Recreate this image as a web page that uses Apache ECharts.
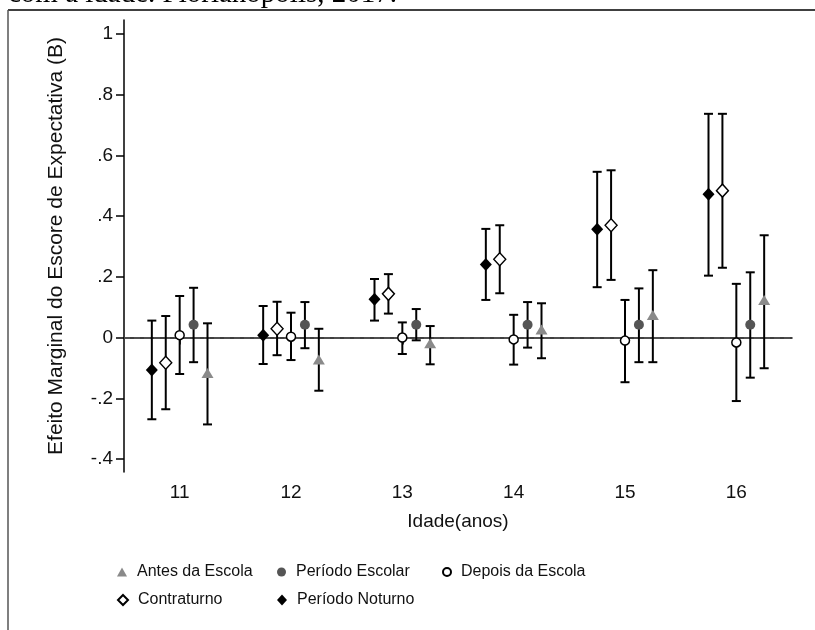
<!DOCTYPE html>
<html>
<head>
<meta charset="utf-8">
<script src="https://cdn.jsdelivr.net/npm/echarts@6/dist/echarts.min.js"></script>
<style>
html,body{margin:0;padding:0;background:#fff;}
#chart{width:815px;height:630px;}
</style>
</head>
<body>
<div id="chart"></div>
<script>
// ---- data ----
const ages = [11, 12, 13, 14, 15, 16];
const yTicks = [-0.4, -0.2, 0, 0.2, 0.4, 0.6, 0.8, 1];

const antesEst = [-0.117, -0.072, -0.019, 0.027, 0.074, 0.124];
const antesLo  = [-0.286, -0.175, -0.088, -0.068, -0.081, -0.101];
const antesHi  = [0.047, 0.029, 0.038, 0.113, 0.222, 0.337];

const escolarEst = [0.042, 0.042, 0.042, 0.042, 0.042, 0.042];
const escolarLo  = [-0.081, -0.035, -0.009, -0.033, -0.081, -0.132];
const escolarHi  = [0.164, 0.117, 0.094, 0.117, 0.162, 0.215];

const depoisEst = [0.008, 0.003, 0.000, -0.006, -0.010, -0.016];
const depoisLo  = [-0.120, -0.074, -0.054, -0.089, -0.147, -0.209];
const depoisHi  = [0.137, 0.082, 0.050, 0.075, 0.124, 0.177];

const contraEst = [-0.083, 0.029, 0.144, 0.258, 0.370, 0.484];
const contraLo  = [-0.236, -0.058, 0.079, 0.146, 0.190, 0.230];
const contraHi  = [0.071, 0.118, 0.209, 0.370, 0.551, 0.737];

const noturnoEst = [-0.107, 0.008, 0.126, 0.241, 0.357, 0.472];
const noturnoLo  = [-0.269, -0.087, 0.056, 0.124, 0.166, 0.204];
const noturnoHi  = [0.056, 0.104, 0.193, 0.358, 0.546, 0.737];

const names = ['Antes da Escola', 'Período Escolar', 'Depois da Escola', 'Contraturno', 'Período Noturno'];

// ---- build ----
const FONT = '"Liberation Sans", Arial, sans-serif';
const groups = [
  {name: names[0], est: antesEst, lo: antesLo, hi: antesHi, off: 0.25,
   symbol: 'triangle', size: [12, 10], style: {color: '#8a8a8a', opacity: 1}},
  {name: names[1], est: escolarEst, lo: escolarLo, hi: escolarHi, off: 0.125,
   symbol: 'circle', size: 10, style: {color: '#555555', opacity: 1}},
  {name: names[2], est: depoisEst, lo: depoisLo, hi: depoisHi, off: 0,
   symbol: 'circle', size: 9, style: {color: '#ffffff', borderColor: '#000', borderWidth: 1.5, opacity: 1}},
  {name: names[3], est: contraEst, lo: contraLo, hi: contraHi, off: -0.125,
   symbol: 'diamond', size: [12, 13], style: {color: '#ffffff', borderColor: '#000', borderWidth: 1.4, opacity: 1}},
  {name: names[4], est: noturnoEst, lo: noturnoLo, hi: noturnoHi, off: -0.25,
   symbol: 'diamond', size: [12, 13], style: {color: '#000000', opacity: 1}}
];

function errRender(params, api) {
  const x = api.value(0), lo = api.value(1), hi = api.value(2);
  const t = api.coord([x, hi]);
  const b = api.coord([x, lo]);
  const hw = 4.5;
  const st = {stroke: '#000', lineWidth: 2};
  return {type: 'group', children: [
    {type: 'line', shape: {x1: t[0], y1: t[1], x2: b[0], y2: b[1]}, style: st},
    {type: 'line', shape: {x1: t[0] - hw, y1: t[1], x2: t[0] + hw, y2: t[1]}, style: st},
    {type: 'line', shape: {x1: b[0] - hw, y1: b[1], x2: b[0] + hw, y2: b[1]}, style: st}
  ]};
}

const series = [];
groups.forEach(function (g) {
  series.push({
    type: 'custom', name: g.name + ' IC', renderItem: errRender, z: 2, silent: true,
    data: ages.map(function (a, i) { return [a + g.off, g.lo[i], g.hi[i]]; })
  });
});
groups.forEach(function (g, gi) {
  const s = {
    type: 'scatter', name: g.name, symbol: g.symbol, symbolSize: g.size, z: 4,
    itemStyle: g.style, silent: true,
    data: ages.map(function (a, i) { return [a + g.off, g.est[i]]; })
  };
  if (gi === 0) {
    s.markLine = {
      silent: true, symbol: 'none', label: {show: false},
      lineStyle: {type: [6, 4], color: '#555', width: 1.5},
      data: [{yAxis: 0}], z: 1
    };
  }
  series.push(s);
});

const legendPos = [
  {left: 117, top: 564}, {left: 277, top: 564}, {left: 442, top: 564},
  {left: 117, top: 592}, {left: 277, top: 592}
];
const legendIconSize = [[10, 9], [9, 9], [8, 8], [10, 10], [10, 11]];
const legends = names.map(function (n, i) {
  return {
    data: [n], left: legendPos[i].left, top: legendPos[i].top, padding: 0,
    itemWidth: legendIconSize[i][0], itemHeight: legendIconSize[i][1], itemGap: 0, selectedMode: false,
    formatter: function (name) { return '{t|' + name + '}'; },
    textStyle: {fontFamily: FONT, fontSize: 16, color: '#111',
      rich: {t: {fontFamily: FONT, fontSize: 16, color: '#111', padding: [0, 0, 0, 5]}}}
  };
});

const chart = echarts.init(document.getElementById('chart'), null, {renderer: 'canvas'});
chart.setOption({
  animation: false,
  backgroundColor: '#fff',
  grid: {left: 124, right: 23, top: 20, bottom: 158, containLabel: false},
  xAxis: {
    type: 'value', min: 10.5, max: 16.5,
    name: 'Idade(anos)', nameLocation: 'middle', nameGap: 40,
    nameTextStyle: {fontFamily: FONT, fontSize: 19, color: '#111'},
    axisLine: {lineStyle: {color: '#000', width: 1.5}},
    axisTick: {show: true, length: 7, lineStyle: {color: '#000', width: 1.5}, customValues: ages},
    axisLabel: {customValues: ages, margin: 11, fontFamily: FONT, fontSize: 19, color: '#111',
      formatter: function (v) { return String(Math.round(v)); }},
    splitLine: {show: false}
  },
  yAxis: {
    type: 'value', min: -0.4427, max: 1.046,
    name: 'Efeito Marginal do Escore de Expectativa (B)', nameLocation: 'middle', nameGap: 57,
    nameTextStyle: {fontFamily: FONT, fontSize: 21, color: '#111'},
    axisLine: {show: true, lineStyle: {color: '#000', width: 1.5}},
    axisTick: {show: true, length: 8, lineStyle: {color: '#000', width: 1.5}, customValues: yTicks},
    axisLabel: {customValues: yTicks, margin: 11, fontFamily: FONT, fontSize: 19, color: '#111',
      formatter: function (v) {
        if (Math.abs(v) < 1e-9) return '0';
        if (Math.abs(v - 1) < 1e-9) return '1';
        return (v < 0 ? '-' : '') + Math.abs(v).toFixed(1).replace(/^0/, '');
      }},
    splitLine: {show: false}
  },
  legend: legends,
  graphic: [
    {type: 'text', left: 8, top: -20, silent: true,
     style: {text: 'com a idade. Florianópolis, 2017.', font: '29px "Liberation Serif", "Times New Roman", serif', fill: '#000'}},
    {type: 'rect', silent: true, shape: {x: 0, y: 9, width: 815, height: 12}, style: {fill: '#fff'}},
    {type: 'line', silent: true, shape: {x1: 8, y1: 10, x2: 815, y2: 10}, style: {stroke: '#000', lineWidth: 1.5}},
    {type: 'line', silent: true, shape: {x1: 8, y1: 10, x2: 8, y2: 630}, style: {stroke: '#555', lineWidth: 1.5}}
  ],
  series: series
});
</script>
</body>
</html>
